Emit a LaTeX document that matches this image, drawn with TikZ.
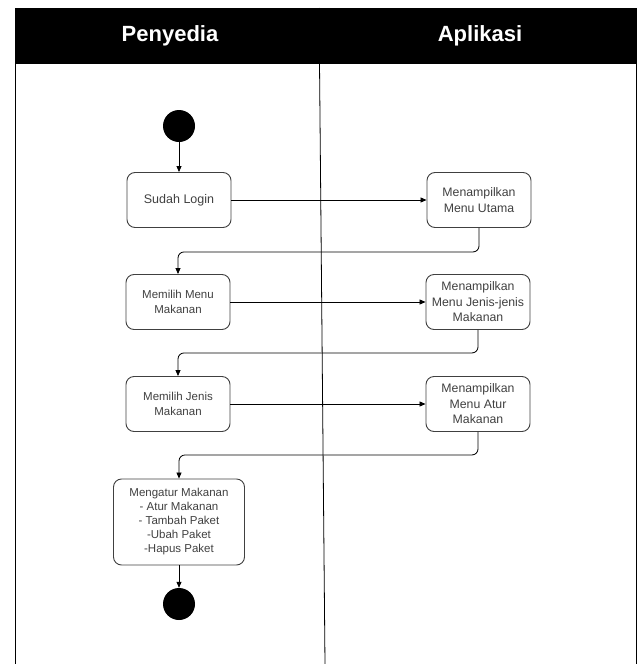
\documentclass[tikz,border=0pt]{standalone}
\usepackage{fontspec}
\setmainfont{Liberation Sans}
\usetikzlibrary{positioning,shapes.geometric,arrows.meta}

\tikzset{
  activity/.style={draw=black!75, line width=0.9pt, rounded corners=8pt, align=center,
    minimum width=104pt, minimum height=55pt, text=black!75, inner sep=1pt},
  flow/.style={-{Triangle[length=6pt,width=5pt]}, line width=0.8pt},
  state/.style={circle, fill=black, minimum size=32pt, inner sep=0pt},
  lanetitle/.style={text=white, font=\bfseries\fontsize{22}{26}\selectfont}
}

\begin{document}
\begin{tikzpicture}[x=1pt,y=-1pt]
      \useasboundingbox (0,0) rectangle (639,664);

      % Draw the swimlanes
      \fill[black] (15,8) rectangle (636,63);
      \draw[line width=0.8pt] (15,664) -- (15,8) -- (636,8) -- (636,664);
      \draw[line width=0.8pt] (15,63) -- (636,63);
      \draw[line width=0.8pt] (319,8) -- (325,664);
      \node[lanetitle] (penyedia) at (170,36) {Penyedia};
      \node[lanetitle] (aplikasi) at (480,36) {Aplikasi};

      % Define the nodes inside the lane Penyedia
      \node[state] (start) at (179,126) {};
      \node[activity, font=\fontsize{12.5}{16}\selectfont] (login) at (179,200) {Sudah Login};
      \node[activity, font=\fontsize{11.5}{15}\selectfont] (pilihmenu) at (178,302) {Memilih Menu\\Makanan};
      \node[activity, font=\fontsize{11.5}{15}\selectfont] (pilihjenis) at (178,404) {Memilih Jenis\\Makanan};
      \node[activity, minimum width=131pt, minimum height=86pt, font=\fontsize{11.5}{14}\selectfont] (atur) at (179,522)
        {Mengatur Makanan\\- Atur Makanan\\- Tambah Paket\\-Ubah Paket\\-Hapus Paket};
      \node[state] (end) at (179,604) {};

      % Define the nodes inside the lane Aplikasi
      \node[activity, font=\fontsize{12.3}{15.5}\selectfont] (menuutama) at (479,200) {Menampilkan\\Menu Utama};
      \node[activity, font=\fontsize{12.3}{15.5}\selectfont] (menujenis) at (478,302) {Menampilkan\\Menu Jenis-jenis\\Makanan};
      \node[activity, font=\fontsize{12.3}{15.5}\selectfont] (menuatur) at (478,404) {Menampilkan\\Menu Atur\\Makanan};

      % Draw the arrows between the nodes
      \draw[flow] (start) -- (login);
      \draw[flow] (login) -- (menuutama);
      \draw[flow, rounded corners=6pt] (menuutama.south) -- ++(0,24) -| (pilihmenu.north);
      \draw[flow] (pilihmenu) -- (menujenis);
      \draw[flow, rounded corners=6pt] (menujenis.south) -- ++(0,23) -| (pilihjenis.north);
      \draw[flow] (pilihjenis) -- (menuatur);
      \draw[flow, rounded corners=6pt] (menuatur.south) -- ++(0,23) -| (atur.north);
      \draw[flow] (atur) -- (end);
\end{tikzpicture}
\end{document}
